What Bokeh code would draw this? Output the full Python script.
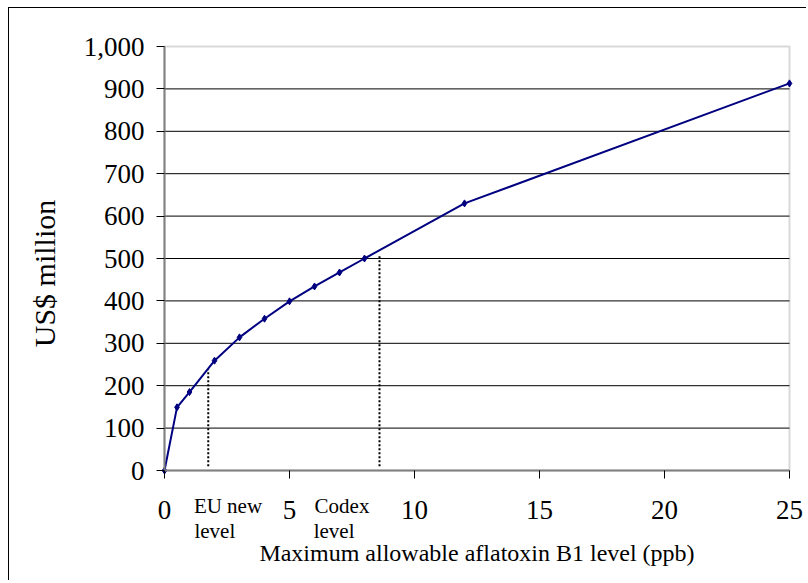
from bokeh.plotting import figure
from bokeh.models import Range1d, NumeralTickFormatter, FixedTicker, LinearAxis, BoxAnnotation
from bokeh.embed import file_html
from bokeh.resources import INLINE

# Data
levels = [0, 0.5, 1, 2, 3, 4, 5, 6, 7, 8, 12, 25]
values = [0, 149, 185, 259, 314, 358, 399, 434, 467, 500, 630, 913]

x_ticks = [0, 5, 10, 15, 20, 25]
y_ticks = [0, 100, 200, 300, 400, 500, 600, 700, 800, 900, 1000]

NB = "\u00a0"
ref_names = ["EU new\nlevel" + NB * 5, "Codex\nlevel" + NB * 3]
ref_x = [1.75, 8.6]
ref_top = [238, 508]
ref_label_x = [2.54, 7.1]

FONT = "Liberation Serif"

# canvas layout (pixels): the frame covers the whole canvas, plot area inside it
W, H = 798, 573
A_LEFT, A_RIGHT, A_TOP, A_BOTTOM = 155, 780, 38, 462
x0, x1 = x_ticks[0], x_ticks[-1]
y0, y1 = y_ticks[0], y_ticks[-1]
xs = (x1 - x0) / (A_RIGHT - A_LEFT)
ys = (y1 - y0) / (A_BOTTOM - A_TOP)
x_range = Range1d(x0 - A_LEFT * xs, x1 + (W - A_RIGHT) * xs)
y_range = Range1d(y0 - (H - A_BOTTOM) * ys, y1 + A_TOP * ys)

p = figure(width=W, height=H, output_backend="svg", toolbar_location=None,
           x_range=x_range, y_range=y_range,
           min_border_left=0, min_border_right=0, min_border_top=0,
           min_border_bottom=0,
           styles={"border-left": "1px solid black", "border-top": "1px solid black",
                   "margin-left": "8px", "margin-top": "7px"})

p.background_fill_color = "white"
p.border_fill_color = "white"
p.outline_line_color = None
p.xgrid.visible = False
p.ygrid.visible = False

# plot-area border
p.add_layout(BoxAnnotation(left=x0, right=x1, bottom=y0, top=y1,
                           fill_alpha=0, line_color="#808080", line_width=2, level="underlay"))

# horizontal grid lines inside plot area
inner = y_ticks[1:-1]
p.segment(x0=[x0] * len(inner), y0=inner, x1=[x1] * len(inner), y1=inner,
          line_color="#000000", line_width=1)

for ax in (p.xaxis[0], p.yaxis[0]):
    ax.fixed_location = 0
    ax.axis_line_color = "#808080"
    ax.axis_line_width = 2
    ax.major_tick_line_color = "#000000"
    ax.major_tick_line_width = 1
    ax.major_tick_out = 8
    ax.major_tick_in = 0
    ax.minor_tick_line_color = None
    ax.major_label_text_font = FONT
    ax.major_label_text_font_size = "27px"
    ax.major_label_text_color = "black"
    ax.axis_label_text_font = FONT
    ax.axis_label_text_font_style = "normal"
    ax.axis_label_text_color = "black"

p.xaxis.ticker = FixedTicker(ticks=x_ticks)
p.xaxis.bounds = (x0, x1)
p.yaxis.ticker = FixedTicker(ticks=y_ticks)
p.yaxis.bounds = (y0, y1)
p.yaxis.formatter = NumeralTickFormatter(format="0,0")
p.xaxis.major_label_standoff = 22
p.yaxis.major_label_standoff = 12
p.xaxis.axis_label = "Maximum allowable aflatoxin B1 level (ppb)"
p.xaxis.axis_label_text_font_size = "24px"
p.xaxis.axis_label_standoff = 18
p.yaxis.axis_label = "US$ million" + NB * 4
p.yaxis.axis_label_text_font_size = "30px"
p.yaxis.axis_label_standoff = 20

# annotation labels under the axis
ann_axis = LinearAxis(fixed_location=0,
                      ticker=FixedTicker(ticks=ref_label_x),
                      major_label_overrides={k: v for k, v in zip(ref_label_x, ref_names)},
                      axis_line_color=None, major_tick_line_color=None,
                      minor_tick_line_color=None,
                      major_label_standoff=17,
                      major_label_text_font=FONT,
                      major_label_text_font_size="21px",
                      major_label_text_color="black",
                      major_label_text_line_height=1.05)
p.add_layout(ann_axis, "below")

# dotted reference lines
for xv, top in zip(ref_x, ref_top):
    p.segment(x0=[xv], y0=[10], x1=[xv], y1=[top], line_color="black",
              line_width=2, line_dash="2 2")

# main line
p.line(levels, values, line_color="#000080", line_width=2)
p.scatter(levels, values, marker="diamond", size=7, fill_color="#000080",
          line_color="#000080")

open("out.html", "w").write(file_html(p, INLINE))
